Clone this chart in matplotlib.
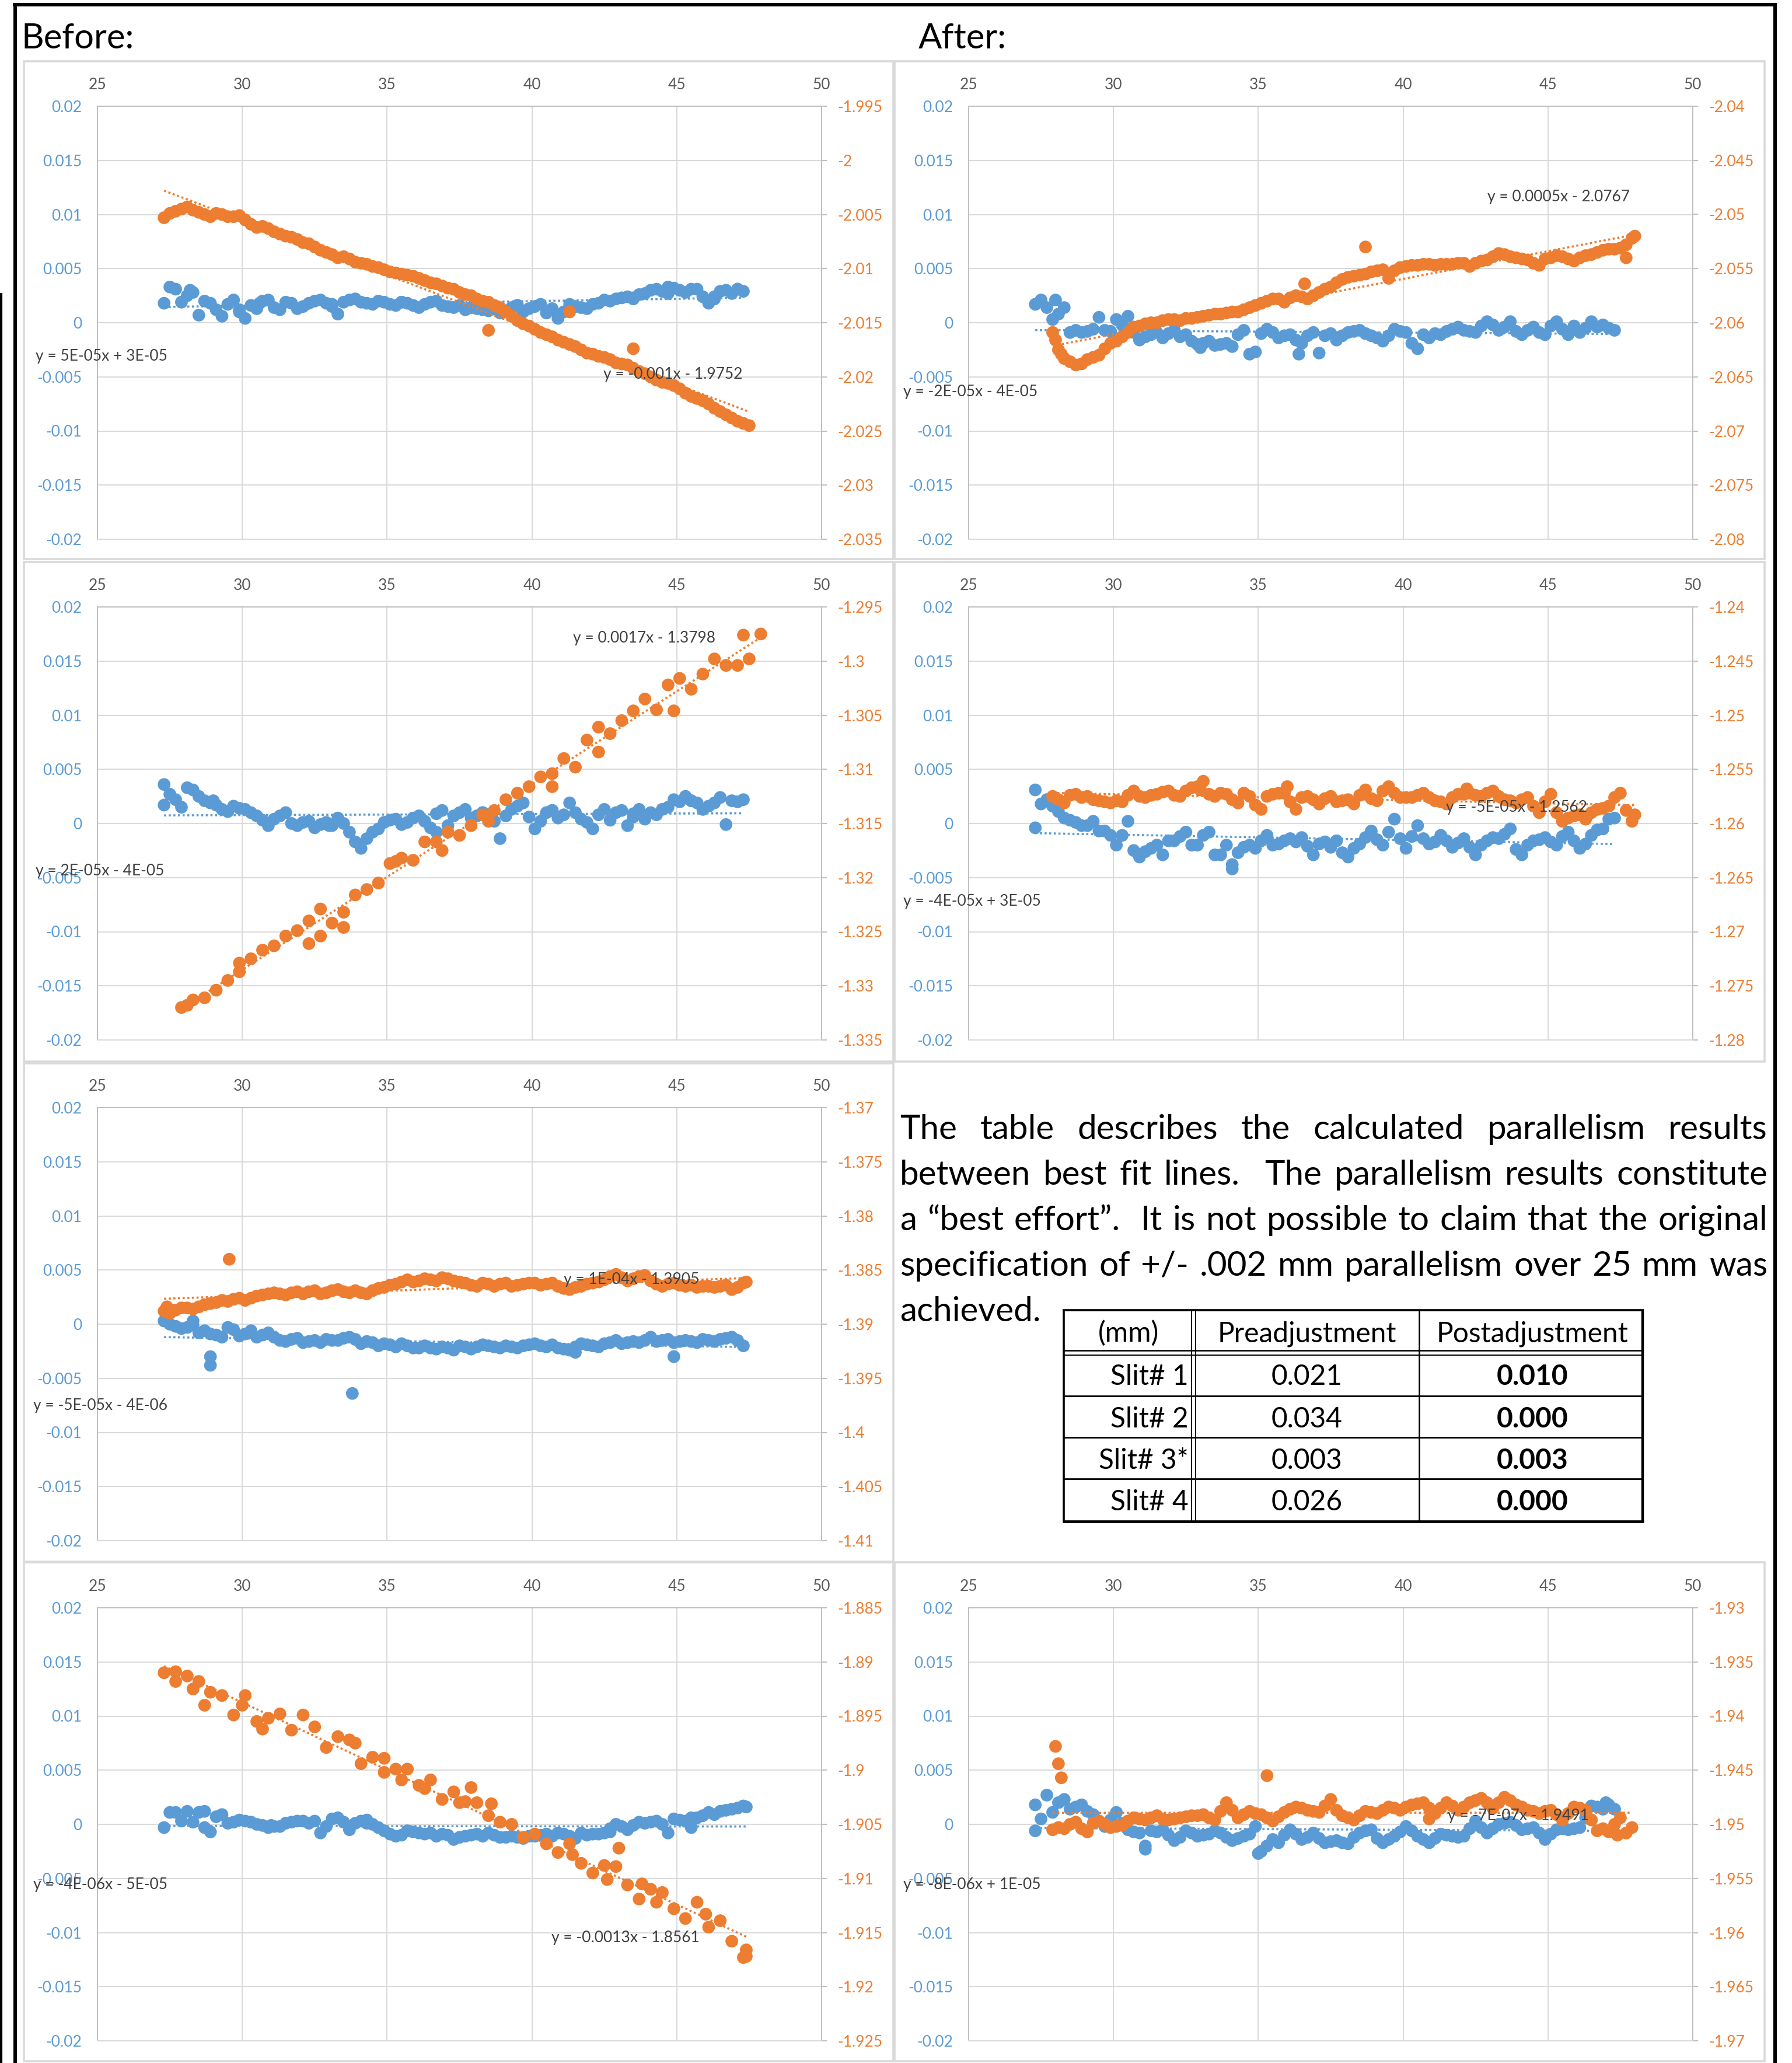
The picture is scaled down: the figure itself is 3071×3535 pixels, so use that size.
import numpy as np
import matplotlib
matplotlib.use("Agg")
import matplotlib.pyplot as plt
from matplotlib.patches import Rectangle
from matplotlib.lines import Line2D

plt.rcParams['font.family'] = ['Lato', 'DejaVu Sans']

W, H = 3071, 3535

# Excel 2013 palette
BLUE = "#5B9BD5"
ORANGE = "#ED7D31"
GRID = "#D9D9D9"
AXIS = "#BFBFBF"
TICK_GRAY = "#595959"
EQ_GRAY = "#404040"

# ---------------------------------------------------------------- data
X_TICKS = [25, 30, 35, 40, 45, 50]
LEFT_TICKS = [-0.02, -0.015, -0.01, -0.005, 0, 0.005, 0.01, 0.015, 0.02]
LEFT_LABELS = ["-0.02", "-0.015", "-0.01", "-0.005", "0", "0.005", "0.01", "0.015", "0.02"]

# scan positions (mm)
X_GRID_A = [27.3, 27.7, 28.1, 28.5, 28.9, 29.3, 29.7, 30.1, 30.5, 30.9,
            31.3, 31.7, 32.1, 32.5, 32.9, 33.3, 33.7, 34.1, 34.5, 34.9,
            35.3, 35.7, 36.1, 36.5, 36.9, 37.3, 37.7, 38.1, 38.5, 38.9,
            39.3, 39.7, 40.1, 40.5, 40.9, 41.3, 41.7, 42.1, 42.5, 42.9,
            43.3, 43.7, 44.1, 44.5, 44.9, 45.3, 45.7, 46.1, 46.5, 46.9,
            47.3]
X_GRID_B = [27.9, 28.3, 28.7, 29.1, 29.5, 29.9, 30.3, 30.7, 31.1, 31.5,
            31.9, 32.3, 32.7, 33.1, 33.5, 33.9, 34.3, 34.7, 35.1, 35.5,
            35.9, 36.3, 36.7, 37.1, 37.5, 37.9, 38.3, 38.7, 39.1, 39.5,
            39.9, 40.3, 40.7, 41.1, 41.5, 41.9, 42.3, 42.7, 43.1, 43.5,
            43.9, 44.3, 44.7, 45.1, 45.5, 45.9, 46.3, 46.7, 47.1, 47.5,
            47.9]
# in-between scan positions for the denser runs
X_GRID_C = [27.5, 27.9, 28.3, 28.7, 29.1, 29.5, 29.9, 30.3, 30.7, 31.1,
            31.5, 31.9, 32.3, 32.7, 33.1, 33.5, 33.9, 34.3, 34.7, 35.1,
            35.5, 35.9, 36.3, 36.7, 37.1, 37.5, 37.9, 38.3, 38.7, 39.1,
            39.5, 39.9, 40.3, 40.7, 41.1, 41.5, 41.9, 42.3, 42.7, 43.1,
            43.5, 43.9, 44.3, 44.7, 45.1, 45.5, 45.9, 46.3, 46.7, 47.1]
X_GRID_D = [28.1, 28.5, 28.9, 29.3, 29.7, 30.1, 30.5, 30.9, 31.3, 31.7,
            32.1, 32.5, 32.9, 33.3, 33.7, 34.1, 34.5, 34.9, 35.3, 35.7,
            36.1, 36.5, 36.9, 37.3, 37.7, 38.1, 38.5, 38.9, 39.3, 39.7,
            40.1, 40.5, 40.9, 41.3, 41.7, 42.1, 42.5, 42.9, 43.3, 43.7,
            44.1, 44.5, 44.9, 45.3, 45.7, 46.1, 46.5, 46.9, 47.3, 47.7]

# Before, slit 1
B1_BLUE_Y = [0.0018, 0.0031, 0.0025, 0.0007, 0.0018, 0.0006, 0.0021, 0.0004, 0.0013, 0.0021,
             0.0012, 0.0018, 0.0015, 0.0020, 0.0018, 0.0008, 0.0021, 0.0019, 0.0017, 0.0019,
             0.0016, 0.0018, 0.0014, 0.0019, 0.0016, 0.0014, 0.0012, 0.0013, 0.0011, 0.0009,
             0.0014, 0.0010, 0.0015, 0.0009, 0.0004, 0.0017, 0.0014, 0.0017, 0.0021, 0.0022,
             0.0024, 0.0026, 0.0030, 0.0029, 0.0032, 0.0028, 0.0031, 0.0018, 0.0029, 0.0027,
             0.0029]
B1_BLUE_MID_Y = [0.0033, 0.0019, 0.0028, 0.0020, 0.0012, 0.0017, 0.0010, 0.0016, 0.0020, 0.0014,
                 0.0019, 0.0013, 0.0018, 0.0021, 0.0015, 0.0019, 0.0022, 0.0018, 0.0020, 0.0017,
                 0.0019, 0.0016, 0.0017, 0.0020, 0.0015, 0.0016, 0.0014, 0.0012, 0.0013, 0.0011,
                 0.0016, 0.0013, 0.0017, 0.0012, 0.0010, 0.0015, 0.0013, 0.0018, 0.0020, 0.0023,
                 0.0022, 0.0027, 0.0031, 0.0027, 0.0030, 0.0031, 0.0024, 0.0022, 0.0030, 0.0031]
B1_BLUE_EXTRA_X = [28.2, 29.9, 30.6, 33.1, 35.5, 39.5, 40.7, 43.5, 44.7, 46.3, 47.1]
B1_BLUE_EXTRA_Y = [0.0030, 0.0012, 0.0018, 0.0017, 0.0019, 0.0016, 0.0013, 0.0023, 0.0033, 0.0024, 0.0031]
B1_ORANGE_Y = [-2.0053, -2.0047, -2.0043, -2.0048, -2.0052, -2.0050, -2.0052, -2.0055, -2.0062, -2.0063,
               -2.0068, -2.0071, -2.0076, -2.0080, -2.0085, -2.0090, -2.0091, -2.0095, -2.0098, -2.0101,
               -2.0104, -2.0106, -2.0109, -2.0113, -2.0116, -2.0119, -2.0124, -2.0128, -2.0131, -2.0136,
               -2.0144, -2.0151, -2.0156, -2.0161, -2.0166, -2.0170, -2.0175, -2.0179, -2.0182, -2.0187,
               -2.0189, -2.0195, -2.0200, -2.0205, -2.0208, -2.0215, -2.0220, -2.0225, -2.0232, -2.0238,
               -2.0243]
B1_ORANGE_MID_Y = [-2.0049, -2.0045, -2.0046, -2.0050, -2.0049, -2.0052, -2.0051, -2.0059, -2.0061, -2.0066,
                   -2.0070, -2.0073, -2.0077, -2.0083, -2.0087, -2.0089, -2.0094, -2.0096, -2.0099, -2.0103,
                   -2.0105, -2.0107, -2.0111, -2.0114, -2.0118, -2.0122, -2.0125, -2.0130, -2.0134, -2.0140,
                   -2.0148, -2.0153, -2.0159, -2.0163, -2.0168, -2.0172, -2.0178, -2.0181, -2.0184, -2.0188,
                   -2.0192, -2.0197, -2.0203, -2.0206, -2.0211, -2.0218, -2.0222, -2.0229, -2.0235, -2.0241]
B1_ORANGE_EXTRA_X = [38.5, 41.3, 43.5, 47.5]
B1_ORANGE_EXTRA_Y = [-2.0157, -2.0140, -2.0174, -2.0245]

# Before, slit 2
B2_BLUE_Y = [0.0017, 0.0022, 0.0033, 0.0025, 0.0019, 0.0013, 0.0016, 0.0013, 0.0007, -0.0002,
             0.0007, 0.0000, 0.0001, -0.0004, 0.0001, 0.0005, -0.0008, -0.0023, -0.0008, 0.0001,
             0.0004, 0.0001, 0.0007, -0.0004, 0.0012, 0.0007, 0.0013, 0.0007, 0.0008, -0.0014,
             0.0013, 0.0019, -0.0005, 0.0010, 0.0005, 0.0019, 0.0004, -0.0005, 0.0013, 0.0010,
             -0.0002, 0.0013, 0.0010, 0.0013, 0.0022, 0.0025, 0.0019, 0.0016, 0.0024, 0.0021,
             0.0022]
B2_BLUE_MID_Y = [0.0027, 0.0015, 0.0031, 0.0021, 0.0017, 0.0011, 0.0014, 0.0010, 0.0003, 0.0004,
                 0.0010, -0.0002, 0.0002, -0.0001, -0.0002, 0.0000, -0.0017, -0.0014, -0.0005, 0.0003,
                 -0.0001, 0.0005, 0.0002, 0.0009, -0.0002, 0.0010, 0.0005, 0.0010, 0.0002, 0.0007,
                 0.0016, 0.0006, 0.0002, 0.0012, 0.0008, 0.0010, 0.0001, 0.0008, 0.0003, 0.0012,
                 0.0006, 0.0004, 0.0008, 0.0015, 0.0020, 0.0021, 0.0013, 0.0019, -0.0001, 0.0020]
B2_BLUE_EXTRA_X = [27.3, 29.0, 33.0, 36.7, 38.3, 40.7, 43.5, 45.5]
B2_BLUE_EXTRA_Y = [0.0036, 0.0021, -0.0002, -0.0008, 0.0010, 0.0012, 0.0009, 0.0021]
B2_ORANGE_Y = [-1.3320, -1.3313, -1.3311, -1.3304, -1.3295, -1.3279, -1.3275, -1.3267, -1.3263, -1.3254,
               -1.3249, -1.3261, -1.3254, -1.3242, -1.3246, -1.3216, -1.3211, -1.3205, -1.3187, -1.3182,
               -1.3184, -1.3167, -1.3167, -1.3158, -1.3161, -1.3152, -1.3142, -1.3138, -1.3128, -1.3122,
               -1.3116, -1.3107, -1.3116, -1.3090, -1.3098, -1.3073, -1.3061, -1.3067, -1.3055, -1.3046,
               -1.3035, -1.3045, -1.3022, -1.3016, -1.3026, -1.3012, -1.2998, -1.3004, -1.3004, -1.2998,
               -1.2975]
B2_ORANGE_EXTRA_X = [28.1, 29.9, 32.3, 32.7, 33.5, 35.3, 36.9, 38.5, 40.7, 42.3, 44.9, 47.3]
B2_ORANGE_EXTRA_Y = [-1.3318, -1.3287, -1.3240, -1.3229, -1.3232, -1.3185, -1.3175, -1.3148, -1.3104,
                     -1.3084, -1.3046, -1.2976]

# Before, slit 3
B3_BLUE_Y = [0.0003, -0.0002, -0.0003, -0.0008, -0.0009, -0.0012, -0.0005, -0.0009, -0.0012, -0.0008,
             -0.0015, -0.0014, -0.0017, -0.0015, -0.0014, -0.0015, -0.0012, -0.0018, -0.0017, -0.0018,
             -0.0021, -0.0020, -0.0022, -0.0022, -0.0021, -0.0024, -0.0021, -0.0021, -0.0020, -0.0022,
             -0.0021, -0.0020, -0.0018, -0.0021, -0.0022, -0.0024, -0.0018, -0.0020, -0.0018, -0.0015,
             -0.0017, -0.0017, -0.0012, -0.0015, -0.0017, -0.0015, -0.0017, -0.0015, -0.0014, -0.0012,
             -0.0020]
B3_BLUE_MID_Y = [0.0000, -0.0004, -0.0001, -0.0006, -0.0010, -0.0003, -0.0011, -0.0008, -0.0010, -0.0012,
                 -0.0016, -0.0013, -0.0016, -0.0017, -0.0015, -0.0013, -0.0014, -0.0016, -0.0020, -0.0019,
                 -0.0018, -0.0022, -0.0020, -0.0023, -0.0022, -0.0020, -0.0023, -0.0019, -0.0021, -0.0020,
                 -0.0022, -0.0019, -0.0020, -0.0019, -0.0023, -0.0021, -0.0019, -0.0021, -0.0017, -0.0018,
                 -0.0016, -0.0015, -0.0016, -0.0014, -0.0016, -0.0016, -0.0014, -0.0016, -0.0013, -0.0015]
B3_BLUE_EXTRA_X = [28.3, 28.9, 28.9, 30.3, 33.8, 41.5, 44.9]
B3_BLUE_EXTRA_Y = [0.0003, -0.0030, -0.0038, -0.0006, -0.0064, -0.0026, -0.0030]
B3_ORANGE_Y = [-1.3888, -1.3887, -1.3885, -1.3884, -1.3881, -1.3878, -1.3877, -1.3878, -1.3874, -1.3872,
               -1.3872, -1.3871, -1.3872, -1.3869, -1.3871, -1.3868, -1.3871, -1.3871, -1.3869, -1.3866,
               -1.3863, -1.3859, -1.3860, -1.3859, -1.3857, -1.3860, -1.3862, -1.3865, -1.3863, -1.3863,
               -1.3865, -1.3863, -1.3862, -1.3863, -1.3865, -1.3868, -1.3865, -1.3862, -1.3859, -1.3854,
               -1.3860, -1.3856, -1.3860, -1.3865, -1.3862, -1.3865, -1.3866, -1.3865, -1.3865, -1.3868,
               -1.3862]
B3_ORANGE_MID_Y = [-1.3890, -1.3885, -1.3886, -1.3882, -1.3880, -1.3879, -1.3876, -1.3876, -1.3873, -1.3871,
                   -1.3873, -1.3870, -1.3870, -1.3872, -1.3869, -1.3870, -1.3869, -1.3872, -1.3867, -1.3864,
                   -1.3861, -1.3861, -1.3858, -1.3860, -1.3858, -1.3861, -1.3864, -1.3862, -1.3865, -1.3862,
                   -1.3864, -1.3862, -1.3864, -1.3862, -1.3867, -1.3866, -1.3863, -1.3861, -1.3856, -1.3857,
                   -1.3858, -1.3855, -1.3863, -1.3863, -1.3864, -1.3864, -1.3865, -1.3866, -1.3864, -1.3866]
B3_ORANGE_EXTRA_X = [27.4, 29.55, 47.4]
B3_ORANGE_EXTRA_Y = [-1.3884, -1.3840, -1.3861]

# Before, slit 4
B4_BLUE_Y = [-0.0003, 0.0011, 0.0012, 0.0011, -0.0007, 0.0009, 0.0002, 0.0003, 0.0000, -0.0003,
             -0.0002, 0.0002, 0.0003, 0.0003, -0.0002, 0.0006, -0.0005, 0.0003, 0.0000, -0.0006,
             -0.0011, -0.0006, -0.0008, -0.0008, -0.0009, -0.0014, -0.0011, -0.0009, -0.0008, -0.0012,
             -0.0011, -0.0013, -0.0011, -0.0009, -0.0008, -0.0011, -0.0008, -0.0009, -0.0008, 0.0000,
             -0.0005, 0.0002, 0.0002, 0.0000, 0.0005, 0.0003, 0.0006, 0.0011, 0.0012, 0.0014,
             0.0017]
B4_BLUE_MID_Y = [0.0011, 0.0003, 0.0002, 0.0012, 0.0007, 0.0001, 0.0004, 0.0002, -0.0001, -0.0002,
                 0.0001, 0.0003, 0.0001, -0.0008, 0.0005, 0.0002, 0.0001, 0.0004, -0.0003, -0.0009,
                 -0.0010, -0.0007, -0.0009, -0.0011, -0.0010, -0.0012, -0.0010, -0.0011, -0.0010, -0.0012,
                 -0.0012, -0.0011, -0.0010, -0.0011, -0.0009, -0.0013, -0.0010, -0.0009, -0.0004, -0.0002,
                 -0.0001, 0.0001, 0.0003, -0.0008, 0.0004, 0.0006, 0.0008, 0.0009, 0.0013, 0.0015]
B4_BLUE_EXTRA_X = [28.7, 31.0, 34.3, 42.7, 45.5, 47.4]
B4_BLUE_EXTRA_Y = [-0.0003, -0.0001, 0.0001, -0.0007, -0.0003, 0.0016]
B4_ORANGE_Y = [-1.8910, -1.8909, -1.8913, -1.8918, -1.8928, -1.8931, -1.8949, -1.8931, -1.8955, -1.8952,
               -1.8948, -1.8963, -1.8949, -1.8960, -1.8979, -1.8969, -1.8972, -1.8994, -1.8988, -1.9002,
               -1.8999, -1.8999, -1.9014, -1.9009, -1.9027, -1.9020, -1.9029, -1.9030, -1.9042, -1.9048,
               -1.9050, -1.9062, -1.9059, -1.9068, -1.9076, -1.9068, -1.9086, -1.9095, -1.9088, -1.9089,
               -1.9106, -1.9119, -1.9110, -1.9113, -1.9128, -1.9137, -1.9122, -1.9145, -1.9139, -1.9158,
               -1.9173]
B4_ORANGE_EXTRA_X = [27.7, 28.3, 28.7, 30.0, 30.7, 33.9, 34.9, 35.5, 36.3, 37.5, 37.9, 38.6, 41.4, 42.6,
                     43.0, 43.8, 44.3, 46.0, 47.4, 47.4]
B4_ORANGE_EXTRA_Y = [-1.8918, -1.8925, -1.8940, -1.8940, -1.8962, -1.8975, -1.8989, -1.9009, -1.9017,
                     -1.9030, -1.9016, -1.9031, -1.9078, -1.9101, -1.9072, -1.9105, -1.9122, -1.9133,
                     -1.9166, -1.9172]

# After, slit 1
A1_BLUE_Y = [0.0017, 0.0014, 0.0008, -0.0009, -0.0009, -0.0006, -0.0007, 0.0003, -0.0006, -0.0016,
             -0.0011, -0.0014, -0.0007, -0.0011, -0.0020, -0.0017, -0.0020, -0.0022, -0.0007, -0.0027,
             -0.0006, -0.0014, -0.0011, -0.0019, -0.0009, -0.0012, -0.0016, -0.0009, -0.0007, -0.0012,
             -0.0017, -0.0006, -0.0009, -0.0024, -0.0014, -0.0011, -0.0006, -0.0007, -0.0009, 0.0001,
             -0.0007, 0.0001, -0.0011, -0.0004, -0.0011, 0.0001, -0.0011, -0.0009, 0.0001, -0.0002,
             -0.0007]
A1_BLUE_MID_Y = [0.0021, 0.0003, 0.0014, -0.0007, -0.0008, 0.0005, -0.0008, -0.0002, -0.0009, -0.0013,
                 -0.0009, -0.0010, -0.0013, -0.0017, -0.0019, -0.0021, -0.0019, -0.0011, -0.0029, -0.0010,
                 -0.0009, -0.0012, -0.0016, -0.0012, -0.0028, -0.0010, -0.0012, -0.0008, -0.0010, -0.0014,
                 -0.0012, -0.0008, -0.0019, -0.0011, -0.0010, -0.0008, -0.0004, -0.0008, -0.0003, -0.0002,
                 -0.0004, -0.0008, -0.0007, -0.0009, -0.0003, -0.0006, -0.0003, -0.0005, -0.0004, -0.0005]
A1_BLUE_EXTRA_X = [28.0, 30.5, 33.0, 36.4]
A1_BLUE_EXTRA_Y = [0.0021, 0.0006, -0.0023, -0.0029]
A1_ORANGE_Y = [-2.0609, -2.0633, -2.0639, -2.0634, -2.0630, -2.0619, -2.0613, -2.0604, -2.0601, -2.0600,
               -2.0597, -2.0598, -2.0596, -2.0594, -2.0592, -2.0591, -2.0590, -2.0586, -2.0582, -2.0578,
               -2.0581, -2.0575, -2.0578, -2.0572, -2.0567, -2.0560, -2.0557, -2.0555, -2.0552, -2.0559,
               -2.0549, -2.0547, -2.0546, -2.0547, -2.0546, -2.0545, -2.0548, -2.0543, -2.0539, -2.0537,
               -2.0540, -2.0542, -2.0547, -2.0540, -2.0539, -2.0543, -2.0538, -2.0535, -2.0532, -2.0531,
               -2.0522]
A1_ORANGE_MID_Y = [-2.0625, -2.0636, -2.0638, -2.0632, -2.0624, -2.0617, -2.0609, -2.0603, -2.0600, -2.0598,
                   -2.0597, -2.0596, -2.0595, -2.0593, -2.0592, -2.0590, -2.0588, -2.0584, -2.0580, -2.0578,
                   -2.0577, -2.0576, -2.0575, -2.0569, -2.0563, -2.0558, -2.0556, -2.0553, -2.0551, -2.0552,
                   -2.0548, -2.0547, -2.0546, -2.0546, -2.0546, -2.0545, -2.0545, -2.0542, -2.0536, -2.0539,
                   -2.0541, -2.0545, -2.0541, -2.0538, -2.0541, -2.0540, -2.0537, -2.0533, -2.0532, -2.0528]
A1_ORANGE_EXTRA_X = [28.0, 28.2, 36.6, 38.7, 47.7, 48.0]
A1_ORANGE_EXTRA_Y = [-2.0616, -2.0629, -2.0564, -2.0530, -2.0540, -2.0520]

# After, slit 2
A2_BLUE_Y = [-0.0004, 0.0022, 0.0011, 0.0003, -0.0002, 0.0002, -0.0007, -0.0020, 0.0002, -0.0031,
             -0.0023, -0.0029, -0.0016, -0.0008, -0.0020, -0.0008, -0.0029, -0.0042, -0.0022, -0.0023,
             -0.0011, -0.0019, -0.0014, -0.0013, -0.0029, -0.0017, -0.0016, -0.0031, -0.0019, -0.0007,
             -0.0020, 0.0004, -0.0023, -0.0002, -0.0019, -0.0011, -0.0022, -0.0014, -0.0029, -0.0016,
             -0.0014, -0.0005, -0.0029, -0.0016, -0.0013, -0.0020, -0.0008, -0.0023, -0.0011, -0.0005,
             0.0005]
A2_BLUE_MID_Y = [0.0018, 0.0016, 0.0005, 0.0001, -0.0002, -0.0007, -0.0011, -0.0011, -0.0025, -0.0026,
                 -0.0020, -0.0016, -0.0012, -0.0020, -0.0011, -0.0029, -0.0020, -0.0027, -0.0020, -0.0016,
                 -0.0020, -0.0016, -0.0017, -0.0021, -0.0019, -0.0022, -0.0027, -0.0023, -0.0013, -0.0015,
                 -0.0008, -0.0014, -0.0012, -0.0014, -0.0017, -0.0016, -0.0018, -0.0022, -0.0020, -0.0013,
                 -0.0010, -0.0024, -0.0020, -0.0015, -0.0017, -0.0012, -0.0016, -0.0019, -0.0006, 0.0004]
A2_BLUE_EXTRA_X = [27.3, 34.1]
A2_BLUE_EXTRA_Y = [0.0031, -0.0038]
A2_ORANGE_Y = [-1.2575, -1.2581, -1.2573, -1.2575, -1.2579, -1.2581, -1.2580, -1.2570, -1.2576, -1.2573,
               -1.2570, -1.2575, -1.2567, -1.2561, -1.2575, -1.2573, -1.2581, -1.2575, -1.2587, -1.2573,
               -1.2572, -1.2587, -1.2575, -1.2582, -1.2575, -1.2579, -1.2582, -1.2569, -1.2579, -1.2566,
               -1.2576, -1.2576, -1.2572, -1.2579, -1.2582, -1.2573, -1.2572, -1.2575, -1.2570, -1.2578,
               -1.2581, -1.2576, -1.2590, -1.2573, -1.2598, -1.2593, -1.2596, -1.2587, -1.2584, -1.2572,
               -1.2598]
A2_ORANGE_MID_Y = [-1.2578, -1.2574, -1.2576, -1.2578, -1.2580, -1.2579, -1.2574, -1.2575, -1.2574, -1.2571,
                   -1.2574, -1.2570, -1.2566, -1.2573, -1.2572, -1.2578, -1.2572, -1.2583, -1.2575, -1.2572,
                   -1.2580, -1.2576, -1.2578, -1.2577, -1.2580, -1.2578, -1.2574, -1.2577, -1.2570, -1.2572,
                   -1.2576, -1.2574, -1.2576, -1.2580, -1.2576, -1.2573, -1.2574, -1.2572, -1.2575, -1.2579,
                   -1.2578, -1.2584, -1.2580, -1.2590, -1.2595, -1.2592, -1.2590, -1.2586, -1.2576, -1.2588]
A2_ORANGE_EXTRA_X = [33.0, 36.0, 42.2, 48.0]
A2_ORANGE_EXTRA_Y = [-1.2569, -1.2566, -1.2568, -1.2592]

# After, slit 4
A4_BLUE_Y = [0.0018, 0.0027, 0.0020, 0.0014, 0.0018, 0.0009, -0.0002, 0.0011, -0.0005, -0.0008,
             -0.0006, -0.0005, -0.0015, -0.0006, -0.0011, -0.0009, -0.0008, -0.0015, -0.0011, -0.0002,
             -0.0020, -0.0017, -0.0005, -0.0014, -0.0008, -0.0017, -0.0015, -0.0018, -0.0008, -0.0005,
             -0.0017, -0.0011, -0.0002, -0.0011, -0.0017, -0.0009, -0.0011, -0.0011, 0.0003, -0.0008,
             0.0000, 0.0002, -0.0005, -0.0003, -0.0014, -0.0005, -0.0005, -0.0003, 0.0017, 0.0014,
             0.0014]
A4_BLUE_MID_Y = [0.0005, 0.0011, 0.0023, 0.0016, 0.0012, 0.0003, 0.0004, 0.0001, -0.0007, -0.0020,
                 -0.0007, -0.0010, -0.0012, -0.0008, -0.0010, -0.0006, -0.0012, -0.0013, -0.0009, -0.0025,
                 -0.0014, -0.0010, -0.0009, -0.0012, -0.0013, -0.0016, -0.0017, -0.0012, -0.0006, -0.0013,
                 -0.0014, -0.0007, -0.0006, -0.0014, -0.0013, -0.0010, -0.0012, -0.0004, -0.0003, -0.0004,
                 0.0001, -0.0001, -0.0004, -0.0008, -0.0009, -0.0004, -0.0004, 0.0006, 0.0016, 0.0018]
A4_BLUE_EXTRA_X = [27.3, 31.1, 35.0, 47.0]
A4_BLUE_EXTRA_Y = [-0.0006, -0.0023, -0.0027, 0.0020]
A4_ORANGE_Y = [-1.9505, -1.9504, -1.9498, -1.9507, -1.9497, -1.9503, -1.9501, -1.9494, -1.9496, -1.9492,
               -1.9496, -1.9494, -1.9492, -1.9491, -1.9496, -1.9480, -1.9494, -1.9488, -1.9491, -1.9497,
               -1.9489, -1.9484, -1.9487, -1.9489, -1.9477, -1.9492, -1.9496, -1.9488, -1.9490, -1.9484,
               -1.9487, -1.9482, -1.9480, -1.9490, -1.9480, -1.9487, -1.9480, -1.9476, -1.9485, -1.9475,
               -1.9482, -1.9487, -1.9490, -1.9487, -1.9496, -1.9484, -1.9487, -1.9506, -1.9507, -1.9494,
               -1.9503]
A4_ORANGE_MID_Y = [-1.9503, -1.9500, -1.9504, -1.9499, -1.9500, -1.9502, -1.9497, -1.9495, -1.9494, -1.9495,
                   -1.9495, -1.9493, -1.9492, -1.9494, -1.9488, -1.9487, -1.9491, -1.9490, -1.9494, -1.9493,
                   -1.9486, -1.9485, -1.9488, -1.9483, -1.9487, -1.9494, -1.9492, -1.9489, -1.9487, -1.9485,
                   -1.9484, -1.9481, -1.9485, -1.9485, -1.9483, -1.9484, -1.9478, -1.9480, -1.9480, -1.9478,
                   -1.9484, -1.9488, -1.9488, -1.9491, -1.9490, -1.9485, -1.9496, -1.9504, -1.9500, -1.9508]
A4_ORANGE_EXTRA_X = [28.0, 28.1, 28.2, 35.3, 40.9, 47.4]
A4_ORANGE_EXTRA_Y = [-1.9428, -1.9444, -1.9457, -1.9455, -1.9495, -1.9510]

# secondary (right) axis ranges
B1_RIGHT = (-2.035, -1.995)
B2_RIGHT = (-1.335, -1.295)
B3_RIGHT = (-1.41, -1.37)
B4_RIGHT = (-1.925, -1.885)
A1_RIGHT = (-2.08, -2.04)
A2_RIGHT = (-1.28, -1.24)
A4_RIGHT = (-1.97, -1.93)

# trendline equation labels as shown on the charts
B1_EQ = ["y = 5E-05x + 3E-05", "y = -0.001x - 1.9752"]
B2_EQ = ["y = 2E-05x - 4E-05", "y = 0.0017x - 1.3798"]
B3_EQ = ["y = -5E-05x - 4E-06", "y = 1E-04x - 1.3905"]
B4_EQ = ["y = -4E-06x - 5E-05", "y = -0.0013x - 1.8561"]
A1_EQ = ["y = -2E-05x - 4E-05", "y = 0.0005x - 2.0767"]
A2_EQ = ["y = -4E-05x + 3E-05", "y = -5E-05x - 1.2562"]
A4_EQ = ["y = -8E-06x + 1E-05", "y = -7E-07x - 1.9491"]

PARA_LINES = [
    "The table describes the calculated parallelism results",
    "between best fit lines.  The parallelism results constitute",
    "a \u201cbest effort\u201d.  It is not possible to claim that the original",
    "specification of +/- .002 mm parallelism over 25 mm was",
    "achieved.",
]
TABLE_HEADER = ["(mm)", "Preadjustment", "Postadjustment"]
TABLE_SLITS = ["Slit# 1", "Slit# 2", "Slit# 3*", "Slit# 4"]
TABLE_PRE = [0.021, 0.034, 0.003, 0.026]
TABLE_POST = [0.010, 0.000, 0.003, 0.000]

# ---------------------------------------------------------------- layout (pixels)
PLOT_W, PLOT_H = 1241, 742
COL_LEFT = [167, 1660]
ROW_TOP = [182, 1040, 1898, 2755]
PANEL_X = [(41, 1531), (1533, 3024)]
PANEL_Y = [(105, 958), (963, 1819), (1822, 2676), (2677, 3532)]
TICK_FS = 19
EQ_FS = 19
MARKER = 245

fig = plt.figure(figsize=(W / 100, H / 100), dpi=100)
fig.patch.set_facecolor("white")


def fig_line(xs, ys, lw, color="black"):
    fig.add_artist(Line2D([x / W for x in xs], [1 - y / H for y in ys],
                          transform=fig.transFigure, lw=lw, color=color,
                          solid_capstyle="butt"))


def fig_box(x0, y0, x1, y1, color, lw):
    fig.add_artist(Rectangle((x0 / W, 1 - y1 / H), (x1 - x0) / W, (y1 - y0) / H,
                             transform=fig.transFigure, fill=False,
                             edgecolor=color, lw=lw))


def trend(ax, x, y, color):
    k, b = np.polyfit(x, y, 1)
    xs = np.array([min(x), max(x)])
    ax.plot(xs, k * xs + b, color=color, lw=2.6, ls=(0, (1, 1.2)),
            dash_capstyle="butt", zorder=4)


def draw_chart(col, row, blue_x, blue_y, orange_x, orange_y, right_lim, eqs, eq_pos):
    left, top = COL_LEFT[col], ROW_TOP[row]
    ax = fig.add_axes([left / W, 1 - (top + PLOT_H) / H, PLOT_W / W, PLOT_H / H])
    ax.set_xlim(25, 50)
    ax.set_ylim(-0.02, 0.02)
    ax.set_xticks(X_TICKS)
    ax.set_xticklabels([str(t) for t in X_TICKS])
    ax.xaxis.tick_top()
    ax.set_yticks(LEFT_TICKS)
    ax.set_yticklabels(LEFT_LABELS)
    ax.tick_params(axis="x", length=0, pad=17, labelsize=TICK_FS, labelcolor=TICK_GRAY)
    ax.tick_params(axis="y", length=0, pad=19, labelsize=TICK_FS, labelcolor=BLUE)
    ax.grid(True, color=GRID, lw=1.4)
    ax.set_axisbelow(True)
    for side in ["top", "left", "right"]:
        ax.spines[side].set_color(AXIS)
        ax.spines[side].set_linewidth(1.4)
    ax.spines["bottom"].set_color(GRID)
    ax.spines["bottom"].set_linewidth(1.4)

    ax.scatter(blue_x, blue_y, s=MARKER, color=BLUE, edgecolors="none", zorder=3)
    trend(ax, blue_x, blue_y, BLUE)

    ax2 = ax.twinx()
    lo, hi = right_lim
    ax2.set_ylim(lo, hi)
    rt = np.linspace(lo, hi, 9)
    ax2.set_yticks(rt)
    ax2.set_yticklabels([f"{round(v, 4):g}" for v in rt])
    # secondary axis keeps Excel's short outside tick marks
    ax2.tick_params(axis="y", direction="out", length=6.5, width=1.4, color=AXIS,
                    pad=13, labelsize=TICK_FS, labelcolor=ORANGE)
    for s in ax2.spines.values():
        s.set_visible(False)
    ax2.scatter(orange_x, orange_y, s=MARKER, color=ORANGE, edgecolors="none", zorder=3)
    trend(ax2, orange_x, orange_y, ORANGE)

    for text, (ex, ey) in zip(eqs, eq_pos):
        ax2.text(ex, ey, text, transform=ax.transData, ha="left", va="center",
                 fontsize=EQ_FS, color=EQ_GRAY, zorder=6)


# panel frames
for (px0, px1) in PANEL_X:
    for r, (py0, py1) in enumerate(PANEL_Y):
        if px0 > 1000 and r == 2:
            continue
        fig_box(px0, py0, px1, py1, GRID, 2.6)

draw_chart(0, 0, X_GRID_A + X_GRID_C + B1_BLUE_EXTRA_X, B1_BLUE_Y + B1_BLUE_MID_Y + B1_BLUE_EXTRA_Y,
           X_GRID_A + X_GRID_C + B1_ORANGE_EXTRA_X, B1_ORANGE_Y + B1_ORANGE_MID_Y + B1_ORANGE_EXTRA_Y,
           B1_RIGHT, B1_EQ, [(22.86, -0.0031), (42.47, -0.00475)])
draw_chart(0, 1, X_GRID_A + X_GRID_C + B2_BLUE_EXTRA_X, B2_BLUE_Y + B2_BLUE_MID_Y + B2_BLUE_EXTRA_Y,
           X_GRID_B + B2_ORANGE_EXTRA_X, B2_ORANGE_Y + B2_ORANGE_EXTRA_Y,
           B2_RIGHT, B2_EQ, [(22.86, -0.0044), (41.42, 0.0171)])
draw_chart(0, 2, X_GRID_A + X_GRID_C + B3_BLUE_EXTRA_X, B3_BLUE_Y + B3_BLUE_MID_Y + B3_BLUE_EXTRA_Y,
           X_GRID_A + X_GRID_C + B3_ORANGE_EXTRA_X, B3_ORANGE_Y + B3_ORANGE_MID_Y + B3_ORANGE_EXTRA_Y,
           B3_RIGHT, B3_EQ, [(22.78, -0.0075), (41.1, 0.0041)])
draw_chart(0, 3, X_GRID_A + X_GRID_C + B4_BLUE_EXTRA_X, B4_BLUE_Y + B4_BLUE_MID_Y + B4_BLUE_EXTRA_Y,
           X_GRID_A + B4_ORANGE_EXTRA_X, B4_ORANGE_Y + B4_ORANGE_EXTRA_Y,
           B4_RIGHT, B4_EQ, [(22.78, -0.0056), (40.67, -0.0105)])
draw_chart(1, 0, X_GRID_A + X_GRID_C + A1_BLUE_EXTRA_X, A1_BLUE_Y + A1_BLUE_MID_Y + A1_BLUE_EXTRA_Y,
           X_GRID_B + X_GRID_D + A1_ORANGE_EXTRA_X, A1_ORANGE_Y + A1_ORANGE_MID_Y + A1_ORANGE_EXTRA_Y,
           A1_RIGHT, A1_EQ, [(22.74, -0.0064), (42.9, 0.0116)])
draw_chart(1, 1, X_GRID_A + X_GRID_C + A2_BLUE_EXTRA_X, A2_BLUE_Y + A2_BLUE_MID_Y + A2_BLUE_EXTRA_Y,
           X_GRID_B + X_GRID_D + A2_ORANGE_EXTRA_X, A2_ORANGE_Y + A2_ORANGE_MID_Y + A2_ORANGE_EXTRA_Y,
           A2_RIGHT, A2_EQ, [(22.74, -0.0072), (41.48, 0.0015)])
draw_chart(1, 3, X_GRID_A + X_GRID_C + A4_BLUE_EXTRA_X, A4_BLUE_Y + A4_BLUE_MID_Y + A4_BLUE_EXTRA_Y,
           X_GRID_B + X_GRID_D + A4_ORANGE_EXTRA_X, A4_ORANGE_Y + A4_ORANGE_MID_Y + A4_ORANGE_EXTRA_Y,
           A4_RIGHT, A4_EQ, [(22.74, -0.0056), (41.54, 0.0008)])

# headings
fig.text(37 / W, 1 - 83 / H, "Before:", fontsize=43, va="baseline", ha="left")
fig.text(1574 / W, 1 - 83 / H, "After:", fontsize=43, va="baseline", ha="left")

# outer black frame
fig_line([22, 3045], [7.5, 7.5], 4.3)
fig_line([25.5, 25.5], [5, H], 4.3)
fig_line([3042, 3042], [5, H], 4.3)
fig_line([2, 2], [502, H], 3.0)

# justified paragraph
PARA_LEFT, PARA_RIGHT = 1542, 3029
PARA_BASE, PARA_STEP = 1952, 78
PARA_FS = 42
renderer = fig.canvas.get_renderer()
for i, line in enumerate(PARA_LINES):
    words = line.split(" ")
    yb = 1 - (PARA_BASE + i * PARA_STEP) / H
    arts = [fig.text(0, yb, w, fontsize=PARA_FS, va="baseline", ha="left") for w in words]
    widths = [a.get_window_extent(renderer).width if w else 0.0 for a, w in zip(arts, words)]
    if len(words) > 1 and i < len(PARA_LINES) - 1:
        gap = (PARA_RIGHT - PARA_LEFT - sum(widths)) / (len(words) - 1)
    else:
        gap = 14
    x = PARA_LEFT
    for a, w in zip(arts, widths):
        a.set_x(x / W)
        x += w + gap

# table
T_L, T_R, T_T, T_B = 1823, 2815, 2245, 2607
COL_SPLIT1, COL_SPLIT2 = 2045, 2432
HEAD_LINE = 2318
ROW_LINES = [2392, 2463, 2534]
fig_line([T_L - 2, T_R + 2], [T_T, T_T], 2.6)
fig_line([T_L - 2, T_R + 2], [T_B, T_B], 3.4)
fig_line([T_L, T_L], [T_T, T_B], 2.6)
fig_line([T_R, T_R], [T_T, T_B], 3.2)
fig_line([COL_SPLIT1 - 3.5, COL_SPLIT1 - 3.5], [T_T, T_B], 1.4)
fig_line([COL_SPLIT1 + 3.5, COL_SPLIT1 + 3.5], [T_T, T_B], 1.4)
fig_line([COL_SPLIT2, COL_SPLIT2], [T_T, T_B], 1.8)
fig_line([T_L, T_R], [HEAD_LINE - 4, HEAD_LINE - 4], 1.8)
fig_line([T_L, T_R], [HEAD_LINE + 4, HEAD_LINE + 4], 1.4)
for yl in ROW_LINES:
    fig_line([T_L, T_R], [yl, yl], 2.0)

TABLE_FS = 34.5
C1, C2, C3 = 1934, 2240, 2626
fig.text(C1 / W, 1 - 2299 / H, TABLE_HEADER[0], fontsize=TABLE_FS, ha="center", va="baseline")
fig.text(C2 / W, 1 - 2299 / H, TABLE_HEADER[1], fontsize=TABLE_FS, ha="center", va="baseline")
fig.text(C3 / W, 1 - 2299 / H, TABLE_HEADER[2], fontsize=TABLE_FS, ha="center", va="baseline")
for slit, pre, post, yb in zip(TABLE_SLITS, TABLE_PRE, TABLE_POST, [2373, 2446, 2517, 2588]):
    fig.text(2037 / W, 1 - yb / H, slit, fontsize=TABLE_FS, ha="right", va="baseline")
    fig.text(C2 / W, 1 - yb / H, f"{pre:.3f}", fontsize=TABLE_FS, ha="center", va="baseline")
    fig.text(C3 / W, 1 - yb / H, f"{post:.3f}", fontsize=TABLE_FS, ha="center", va="baseline",
             fontweight="bold")

fig.savefig("out.png", dpi=100, facecolor="white")
